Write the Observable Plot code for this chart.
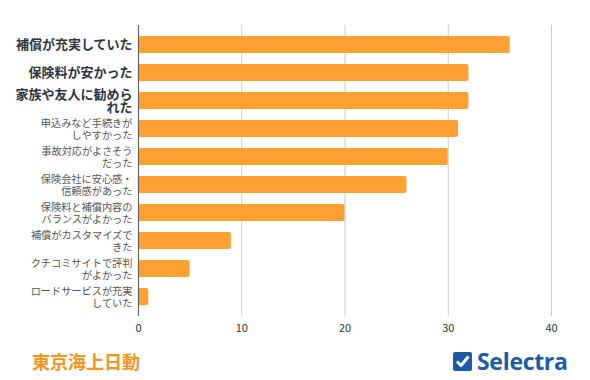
<!DOCTYPE html>
<html><head><meta charset="utf-8">
<script src="https://cdn.jsdelivr.net/npm/d3@7"></script>
<script src="https://cdn.jsdelivr.net/npm/@observablehq/plot@0.6"></script>
<style>
body{margin:0;background:#fff;font-family:"Noto Sans CJK JP","Noto Sans",sans-serif;}
#wrap{width:590px;height:380px;position:relative;overflow:hidden;}
#footer{position:absolute;left:0;top:340px;width:590px;height:40px;}
#brand{position:absolute;left:32px;top:8px;font-size:18px;font-weight:700;color:#F7931E;}
#logo{position:absolute;left:453px;top:9px;display:flex;align-items:center;}
#logo span{font-family:"Open Sans",Lato,sans-serif;font-weight:700;font-size:23px;color:#1d5ba5;margin-left:5px;letter-spacing:-0.3px;line-height:24px;}
</style></head>
<body><div id="wrap"><div id="chart"></div>
<div id="footer"><div id="brand">東京海上日動</div>
<div id="logo"><svg width="19" height="19" viewBox="0 0 19 19"><rect x="0" y="0" width="19" height="19" rx="2" fill="#1d5ba5"/><path d="M4 9.5 L8 13.5 L15.5 4.5" stroke="#fff" stroke-width="3" fill="none" stroke-linejoin="round"/></svg><span>Selectra</span></div></div></div>
<script>
const categories = [
  "補償が充実していた",
  "保険料が安かった",
  "家族や友人に勧めら\nれた",
  "申込みなど手続きが\nしやすかった",
  "事故対応がよさそう\nだった",
  "保険会社に安心感・\n信頼感があった",
  "保険料と補償内容の\nバランスがよかった",
  "補償がカスタマイズで\nきた",
  "クチコミサイトで評判\nがよかった",
  "ロードサービスが充実\nしていた"
];
const values = [36, 32, 32, 31, 30, 26, 20, 9, 5, 1];
const highlighted = [true, true, true, false, false, false, false, false, false, false];
const xTicks = [0, 10, 20, 30, 40];

const data = categories.map((c, i) => ({cat: c, value: values[i], hi: highlighted[i]}));

const chart = Plot.plot({
  width: 590,
  height: 340,
  marginTop: 25,
  marginBottom: 24,
  marginLeft: 138,
  marginRight: 39,
  style: {fontFamily: '"Noto Sans CJK JP", sans-serif', background: "#fff"},
  x: {domain: [0, 40], ticks: xTicks, label: null},
  y: {domain: categories, paddingInner: 0.4, paddingOuter: 0.33, axis: null, label: null},
  marks: [
    Plot.gridX(xTicks, {stroke: "#cccccc", strokeOpacity: 1, strokeWidth: 1}),
    Plot.axisX(xTicks, {tickSize: 0, tickPadding: 8, fontSize: 11, fill: "#333", tickFormat: d => d, label: null}),
    Plot.barX(data, {x: "value", y: "cat", fill: "#FFA033", rx: 2}),
    Plot.ruleX([0], {stroke: "#666", strokeWidth: 1.2}),
    Plot.text(data.filter(d => d.hi), {x: 0, y: "cat", text: "cat", textAnchor: "end", dx: -6, fontSize: 13, fontWeight: "bold", fill: "#2f3640", lineHeight: 1.0}),
    Plot.text(data.filter(d => !d.hi), {x: 0, y: "cat", text: "cat", textAnchor: "end", dx: -6, fontSize: 10.2, fill: "#555", lineHeight: 1.15})
  ]
});
document.getElementById("chart").appendChild(chart);
</script>
</body></html>
